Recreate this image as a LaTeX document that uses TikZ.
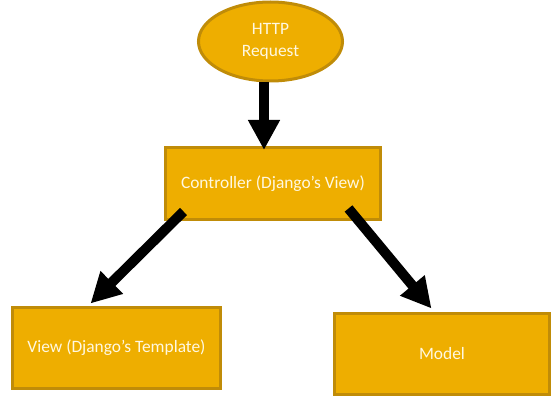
\documentclass[tikz,border=0pt]{standalone}
\usepackage{fontspec}
\setmainfont{Carlito}
\usetikzlibrary{arrows.meta,shapes.geometric}
\definecolor{boxfill}{RGB}{238,174,0}
\definecolor{boxline}{RGB}{192,140,8}
\definecolor{boxtext}{RGB}{255,248,225}
\tikzset{
  gbox/.style={draw=boxline,fill=boxfill,line width=3pt,text=boxtext,
    font=\fontsize{17.4}{22}\selectfont,inner sep=0pt},
  bigarrow/.style={draw=black,line width=10pt,-{Triangle[length=30pt,width=30pt]}}
}
\begin{document}
\begin{tikzpicture}[x=1pt,y=-1pt]
\useasboundingbox (0,0) rectangle (557,401);
\node[gbox,ellipse,minimum width=144pt,minimum height=79pt,align=center] (req) at (270.5,41.5) {HTTP\\Request};
\node[gbox,rectangle,minimum width=215pt,minimum height=71pt] (ctrl) at (273,183.5) {Controller (Django’s View)};
\node[gbox,rectangle,minimum width=208pt,minimum height=81pt] (view) at (116.5,348) {View (Django’s Template)};
\node[gbox,rectangle,minimum width=215pt,minimum height=81pt] (model) at (442,354) {Model};
\draw[bigarrow] ([xshift=-6.5pt]req.south) -- ([xshift=-9pt,yshift=-3.5pt]ctrl.north);
\draw[bigarrow] ([shift={(19.5pt,9pt)}]ctrl.south west) -- ([shift={(79.5pt,2.5pt)}]view.north west);
\draw[bigarrow] ([shift={(-33.5pt,12pt)}]ctrl.south east) -- ([shift={(98.5pt,3.5pt)}]model.north west);
\end{tikzpicture}
\end{document}
